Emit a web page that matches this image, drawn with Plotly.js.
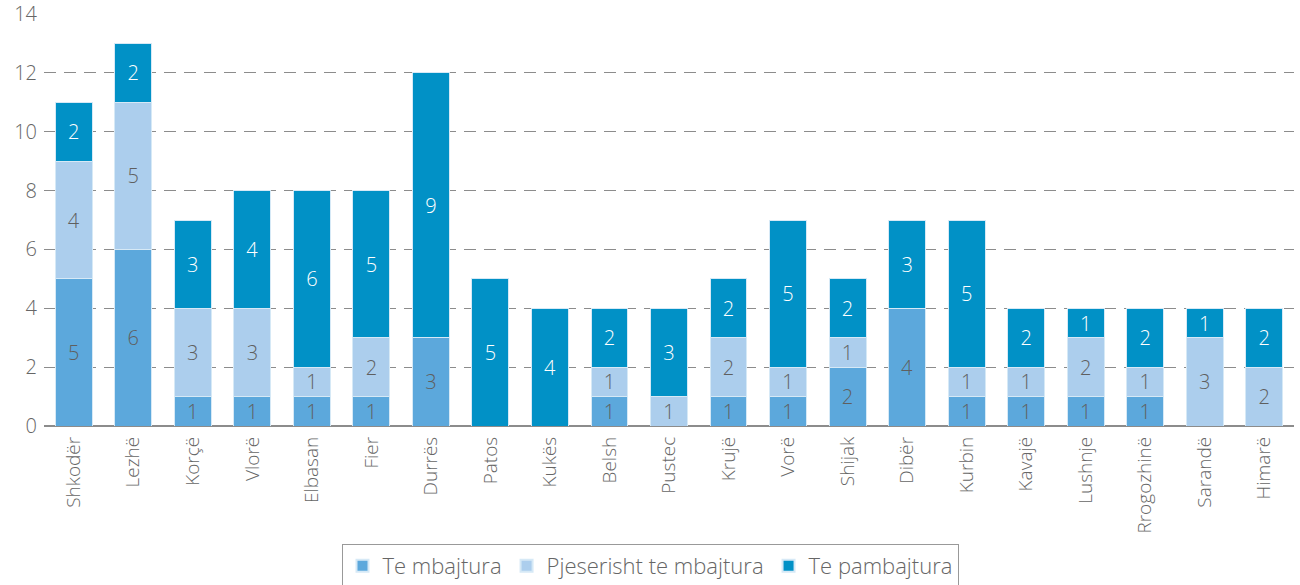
<!DOCTYPE html>
<html>
<head>
<meta charset="utf-8">
<script src="https://cdn.plot.ly/plotly-3.0.1.min.js"></script>
<style>html,body{margin:0;padding:0;background:#fff;}#chart{width:1300px;height:585px;}</style>
</head>
<body>
<div id="chart"></div>
<script>
const categories = ["Shkodër","Lezhë","Korçë","Vlorë","Elbasan","Fier","Durrës","Patos","Kukës","Belsh","Pustec","Krujë","Vorë","Shijak","Dibër","Kurbin","Kavajë","Lushnje","Rrogozhinë","Sarandë","Himarë"];
const teMbajtura = [5,6,1,1,1,1,3,0,0,1,0,1,1,2,4,1,1,1,1,0,0];
const pjeserisht = [4,5,3,3,1,2,0,0,0,1,1,2,1,1,0,1,1,2,1,3,2];
const tePambajtura = [2,2,3,4,6,5,9,5,4,2,3,2,5,2,3,5,2,1,2,1,2];
const seriesNames = ["Te mbajtura","Pjeserisht te mbajtura","Te pambajtura"];
const yTicks = [0,2,4,6,8,10,12,14];

const colors = ["#5ca8dc","#acceed","#0191c6"];
const textColors = ["#5f5f5f","#5f5f5f","#ffffff"];
const font = "'Open Sans', 'Noto Sans', sans-serif";

const allVals = [teMbajtura, pjeserisht, tePambajtura];
const traces = allVals.map((vals, i) => ({
  type: 'bar',
  name: seriesNames[i],
  x: categories,
  y: vals,
  text: vals.map(v => v > 0 ? String(v) : ''),
  textposition: 'inside',
  insidetextanchor: 'middle',
  textangle: 0,
  constraintext: 'none',
  textfont: {family: font, size: 20, color: textColors[i], weight: 300},
  marker: {color: colors[i], line: {color: '#d6e9f6', width: 1}},
  hoverinfo: 'skip'
}));

const layout = {
  width: 1300,
  height: 585,
  margin: {l: 44, r: 6, t: 14, b: 159},
  barmode: 'stack',
  bargap: 0.38,
  paper_bgcolor: '#ffffff',
  plot_bgcolor: '#ffffff',
  font: {family: font, color: '#666666', weight: 300},
  showlegend: true,
  legend: {
    orientation: 'h',
    x: 0.5, xanchor: 'center', xref: 'container',
    y: 0.07, yanchor: 'top', yref: 'container',
    bordercolor: '#999999', borderwidth: 1,
    font: {family: font, size: 22, color: '#666666', weight: 300},
    itemsizing: 'constant',
    traceorder: 'normal'
  },
  xaxis: {
    type: 'category',
    tickangle: -90,
    tickfont: {family: font, size: 19, color: '#666666', weight: 300},
    showgrid: false,
    ticks: '',
    ticklabelstandoff: 6,
    showline: false,
    zeroline: false,
    automargin: false
  },
  yaxis: {
    range: [0, 14],
    tickvals: yTicks,
    ticktext: yTicks.map(String),
    tickfont: {family: font, size: 20, color: '#666666', weight: 300},
    showgrid: true,
    gridcolor: '#8c8c8c',
    griddash: '12px,8px',
    gridwidth: 1,
    zeroline: true,
    zerolinecolor: '#8c8c8c',
    zerolinewidth: 1.5,
    ticks: '',
    ticklabelstandoff: 6,
    showline: false,
    automargin: false
  }
};

Plotly.newPlot('chart', traces, layout, {displayModeBar: false, staticPlot: true});
</script>
</body>
</html>
